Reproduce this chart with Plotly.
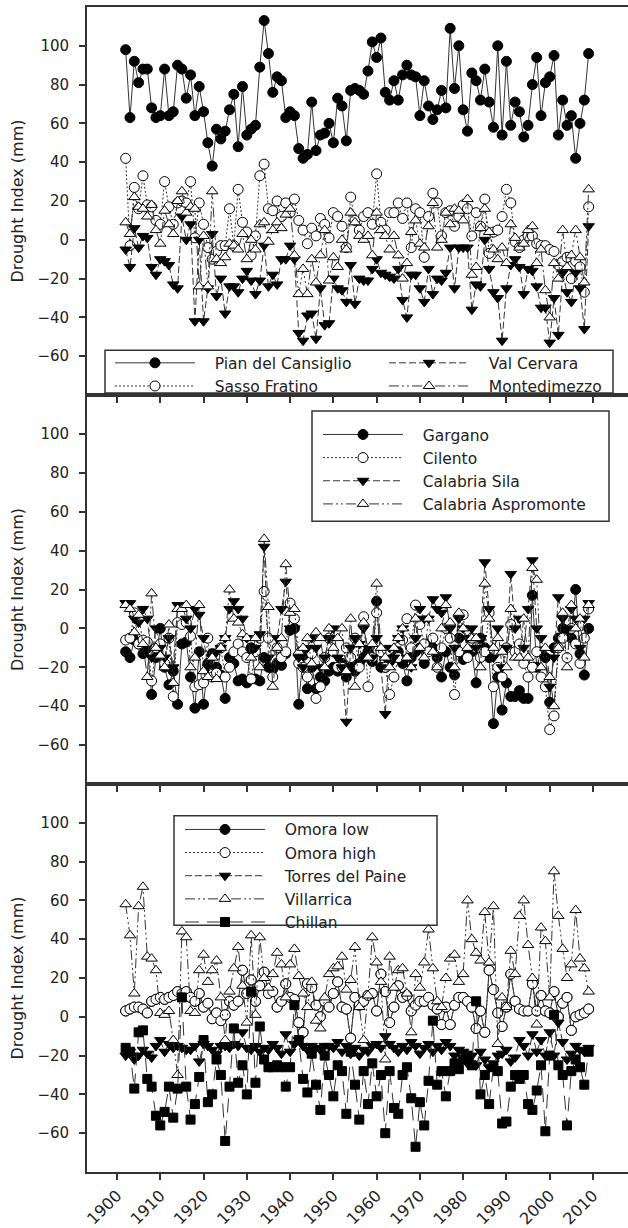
import plotly.graph_objects as go

years = list(range(1902, 2010))

# ---------- Panel 1 ----------
pian_del_cansiglio = [
    98, 63, 92, 81, 88, 88, 68, 63, 64, 88,
    64, 66, 90, 88, 73, 85, 64, 79, 66, 50,
    38, 57, 52, 56, 67, 75, 48, 79, 54, 57,
    59, 89, 113, 96, 76, 84, 82, 63, 66, 64,
    47, 42, 44, 71, 46, 54, 55, 60, 50, 73,
    69, 51, 77, 78, 77, 75, 87, 102, 94, 104,
    76, 72, 82, 72, 85, 90, 85, 84, 64, 82,
    69, 62, 67, 77, 68, 109, 78, 100, 67, 56,
    86, 82, 72, 88, 71, 58, 100, 54, 92, 59,
    71, 66, 53, 59, 80, 94, 64, 81, 84, 95,
    54, 72, 59, 64, 42, 60, 72, 96]
sasso_fratino = [
    42, -3, 27, 16, 33, 18, 17, 10, 8, 30,
    17, 8, 19, 20, 19, 30, 1, 19, 8, -4,
    -10, -6, -3, -3, 16, -3, 26, 9, 4, -8,
    2, 33, 39, 16, 15, 20, 12, 19, 14, 21,
    10, 5, -2, 6, 2, 11, 8, 1, 14, 12,
    7, -4, 22, 10, 5, 12, 14, 8, 34, 9,
    5, 14, 14, 19, 11, 19, -4, 16, 14, -9,
    12, 24, 19, 2, 14, 15, 7, 12, 18, 16,
    2, 14, 7, 21, -7, 4, 5, 12, 26, 19,
    -1, -4, 0, 2, 2, -2, -3, -3, -5, -6,
    -13, -11, -9, -20, -11, -14, -27, 17]
val_cervara = [
    -5, -14, 6, -4, 2, 1, -14, -18, -10, -11,
    -13, -23, -25, 12, 0, 8, -42, 0, -42, -25,
    3, -29, -20, -38, -24, -24, -27, -20, -16, -21,
    -28, -21, -3, -24, -18, -23, -10, -10, -3, -10,
    -48, -52, -39, -38, -51, -25, -44, -43, -20, -25,
    -26, -32, -13, -33, -20, -21, -21, -15, -10, -17,
    -18, -19, -20, -15, -31, -40, -18, -18, -25, -32,
    -15, -28, -20, -21, -17, -4, -25, -4, -4, -4,
    -36, -23, -24, 0, -15, -27, -30, -52, -25, -13,
    -10, -14, -28, -15, -16, -24, -35, -35, -53, -30,
    -49, -17, -27, -32, -17, -25, -46, 7]
montedimezzo = [
    9, 3, 22, 17, 16, 12, 18, 5, -2, 15,
    8, 3, 20, 25, 14, 17, 16, -24, 2, -24,
    25, -10, -12, -9, -2, -3, -5, 3, -10, 0,
    -5, 8, 9, -1, 5, 9, 6, 13, 16, -8,
    -28, -15, -28, -10, -22, -8, 5, -21, -9, -14,
    0, -5, 14, 9, 2, 0, 2, -8, 14, 5,
    2, -5, 2, -8, -20, -12, 4, 10, -2, -4,
    7, 19, -4, 0, 14, 8, 16, 15, 10, 21,
    -18, -14, 6, 16, 4, -5, -10, -4, -12, 8,
    1, -4, -2, 5, 7, -12, -5, -26, -40, -12,
    -20, 5, -14, -8, 5, -9, -22, 26]

# ---------- Panel 2 ----------
gargano = [
    -12, -15, -6, -8, -13, -10, -34, -15, 0, -20,
    -29, -22, -39, -8, -7, -25, -41, -12, -39, -18,
    -13, -20, -24, -36, -15, -18, -27, -26, -28, -10,
    -26, -27, -15, -20, -21, -18, -19, -13, -1, 0,
    -39, -14, -31, -20, -31, -25, -27, -22, -20, -22,
    -18, -25, -20, -22, -18, -15, -12, -17, 14, -20,
    -20, -17, -15, -12, -18, -27, -15, -12, -10, -18,
    -8, -10, -15, -25, -12, -20, -24, -5, -16, -14,
    -12, -28, -5, -10, -15, -49, -25, -42, -28, -35,
    -35, -32, -36, -36, 17, -20, -12, -15, -38, -10,
    -5, 0, -3, -5, 20, -13, -24, 0]
cilento = [
    -6, -5, 8, -8, -6, -7, -27, -10, -8, -18,
    -5, -35, 3, 2, 3, -4, -30, -29, -28, -5,
    -25, -23, -10, -25, -20, -12, -8, -12, -15, -26,
    -12, -5, 19, -5, -25, -10, -15, -12, 13, 5,
    -18, -20, -25, -13, -36, -30, -15, -5, -12, -20,
    -20, -10, -15, -5, -20, 6, -30, -15, 8, -12,
    -20, -34, -25, -15, -6, 5, -10, 12, 2, -8,
    -12, -5, -20, -10, 0, -5, -34, -12, 7, -15,
    -5, -10, -15, -12, 8, -30, -20, -25, -10, 2,
    -12, -8, -18, -25, -20, -12, -25, -30, -52, -45,
    -10, -5, -15, 0, -8, -18, -5, 10]
calabria_sila = [
    13, 13, 5, 3, 10, 5, -15, 0, -10, -15,
    -5, -20, 12, 12, 5, 0, 10, 7, -5, -20,
    -15, -12, -10, -5, 10, 14, 10, 5, -5, -12,
    -10, -3, 42, -15, -20, -5, 10, 24, 0, 0,
    -15, -20, -10, -5, -10, -20, -15, -5, 0, -15,
    -20, -48, -10, -5, -8, 0, -10, -15, -5, -20,
    -44, -10, -15, -5, 0, -15, -20, -5, 10, 5,
    5, 15, 10, 8, 16, 0, -10, 5, 0, -5,
    0, -10, -5, 34, 10, -15, 0, -20, -10, 28,
    0, 5, -10, 10, 35, 0, -5, -15, -30, -15,
    16, 5, 0, 10, 5, -10, 5, 13]
calabria_aspromonte = [
    12, 10, -2, 7, -8, -25, 18, -10, -14, -20,
    2, -28, 10, 10, 12, -20, -15, 12, -22, -25,
    -15, -26, -10, -5, 20, 5, 3, -3, -5, -15,
    -5, -20, 46, 11, -30, -10, -5, 33, 8, 10,
    -12, -10, -5, -18, -2, -5, -20, 0, -10, -5,
    0, -22, 5, -30, -8, 3, -15, -8, 23, -10,
    -15, -20, -10, -5, 0, -15, -20, 5, -10, -15,
    5, -12, -20, 0, 12, 3, -20, 8, 0, -10,
    -5, -5, -20, 23, 5, -10, -5, -12, -20, 10,
    -15, -15, 5, -15, 31, 25, -20, -10, -25, -40,
    -10, 8, -20, 12, 0, 5, -15, 12]

# ---------- Panel 3 ----------
omora_low = [
    3, 4, 5, 5, 4, 2, 8, 9, 10, 9,
    10, 11, 13, 12, 13, 10, 8, 12, 5, 7,
    -1, 2, -2, 1, 8, 6, 8, 24, 12, 19,
    8, 16, 23, 12, 13, 5, 8, 17, 10, 9,
    -3, -8, 17, 15, 6, 0, 8, 5, 12, 18,
    5, 4, -11, 10, 6, 8, 11, 12, 3, 22,
    13, -3, 5, 16, 10, 11, 3, 6, 8, 8,
    10, 6, 4, -4, 5, -4, 6, 10, 10, 8,
    5, -6, 3, -8, 24, 14, 2, -5, 5, 22,
    8, 4, 3, 3, 17, 3, 11, 3, 2, 13,
    0, 7, 10, -7, 0, 1, 2, 4]
omora_high = [
    3, 4, 5, 5, 4, 2, 8, 9, 10, 9,
    10, 11, 13, 12, 13, 10, 8, 12, 5, 7,
    -1, 2, -2, 1, 8, 6, 8, 24, 12, 19,
    8, 16, 23, 12, 13, 5, 8, 17, 10, 9,
    -3, -8, 17, 15, 6, 0, 8, 5, 12, 18,
    5, 4, -11, 10, 6, 8, 11, 12, 3, 22,
    13, -3, 5, 16, 10, 11, 3, 6, 8, 8,
    10, 6, 4, -4, 5, -4, 6, 10, 10, 8,
    5, -6, 3, -8, 24, 14, 2, -5, 5, 22,
    8, 4, 3, 3, 17, 3, 11, 3, 2, 13,
    0, 7, 10, -7, 0, 1, 2, 4]
torres_del_paine = [
    -20, -18, -22, -20, -17, -19, -21, -15, -12, -18,
    -14, -16, -15, -16, -17, -17, -15, -23, -14, -15,
    -17, -19, -15, -15, -16, -14, -15, -8, -16, -17,
    -15, -18, -16, -17, -14, -16, -19, -9, -18, -14,
    -12, -15, -17, -15, -16, -17, -15, -15, -16, -13,
    -18, -15, -19, -16, -20, -17, -18, -15, -14, -16,
    -10, -14, -16, -18, -15, -17, -13, -15, -19, -16,
    -14, -18, -15, -17, -13, -15, -20, -17, -18, -24,
    -20, -25, -18, -22, -26, -24, -20, -19, -17, -23,
    -21, -12, -15, -20, -9, -18, -12, -20, -8, -20,
    -3, -13, -22, -19, -15, -17, -18, -16]
villarrica = [
    58, 42, 12, 57, 67, 31, 30, 24, 2, 1,
    3, -12, -30, 44, 41, 3, 2, 24, 32, 18,
    24, 29, 10, -12, 13, 25, 36, 16, -3, 42,
    1, 41, 20, 15, 22, 33, 27, 10, 27, 35,
    21, 12, 5, 18, -2, -6, 10, 22, 25, 26,
    31, 14, 19, 36, 5, -12, 11, 41, 28, 18,
    -22, 31, 15, 24, 25, 12, -8, 22, 15, 28,
    45, 25, 8, 5, 20, 30, 32, 18, 22, 60,
    40, 33, 29, 54, 28, 57, -14, 10, 5, 34,
    22, 52, 60, 37, 20, -4, 46, 39, 10, 75,
    52, 35, 20, 27, 55, 30, 25, 13]
chillan = [
    -16, -18, -37, -8, -7, -32, -36, -51, -56, -49,
    -36, -52, -37, 10, -36, -53, -45, -31, -12, -44,
    -40, -22, -30, -64, -36, -6, -34, -25, -40, 13,
    -34, -5, -22, -26, -26, -25, -26, -36, -26, 6,
    -12, -32, -39, -19, -35, -48, -20, -30, -41, -25,
    -28, -50, -18, -35, -53, -28, -45, -24, -41, -30,
    -60, -28, -47, -50, -30, -26, -42, -67, -44, -56,
    -33, -2, -35, -28, -41, -28, -24, -27, -22, -20,
    -25, 8, -40, -30, -45, -26, -28, -55, -54, -36,
    -30, -32, -30, -45, -48, -38, -25, -59, -20, 1,
    -25, -30, -56, -28, -22, -26, -35, -18]

tick_years = list(range(1900, 2011, 10))
y_ticks = list(range(-60, 101, 20))

# ---------- geometry (pixels) ----------
W, H = 628, 1228
L, T, B = 87, 7, 50
plot_w = W - L
plot_h = H - T - B
panel_px = [(7, 397), (397, 788), (788, 1178)]


def py(p):
    return (H - B - p) / plot_h


def px(p):
    return (p - L) / plot_w


LINE_C = "#333333"
FONT = "DejaVu Sans, Arial, sans-serif"
TXT_C = "#222222"
PAD = "\u00a0\u00a0\u00a0"

styles = {
    "solid_circle": dict(dash="solid", symbol="circle", fill="black", size=10),
    "dot_open_circle": dict(dash="2px,2px", symbol="circle", fill="white", size=10),
    "dash_down": dict(dash="7px,3px", symbol="triangle-down", fill="black", size=10),
    "dashdotdot_up": dict(dash="10px,3px,2px,3px,2px,3px", symbol="triangle-up", fill="white", size=10),
    "longdash_square": dict(dash="14px,8px", symbol="square", fill="black", size=9),
}

fig = go.Figure()


def add(name, vals, style, panel, legend, rank):
    s = styles[style]
    sfx = "" if panel == 1 else str(panel)
    fig.add_trace(go.Scatter(
        x=years, y=vals, name=PAD + name, mode="lines+markers",
        line=dict(color=LINE_C, width=1, dash=s["dash"]),
        marker=dict(symbol=s["symbol"], size=s["size"], color=s["fill"],
                    line=dict(color="black", width=1)),
        xaxis="x" + sfx, yaxis="y" + sfx, legend=legend, legendrank=rank,
    ))


add("Pian del Cansiglio", pian_del_cansiglio, "solid_circle", 1, "legend", 1)
add("Sasso Fratino", sasso_fratino, "dot_open_circle", 1, "legend", 2)
add("Val Cervara", val_cervara, "dash_down", 1, "legend4", 1)
add("Montedimezzo", montedimezzo, "dashdotdot_up", 1, "legend4", 2)

add("Gargano", gargano, "solid_circle", 2, "legend2", 1)
add("Cilento", cilento, "dot_open_circle", 2, "legend2", 2)
add("Calabria Sila", calabria_sila, "dash_down", 2, "legend2", 3)
add("Calabria Aspromonte", calabria_aspromonte, "dashdotdot_up", 2, "legend2", 4)

add("Omora low", omora_low, "solid_circle", 3, "legend3", 1)
add("Omora high", omora_high, "dot_open_circle", 3, "legend3", 2)
add("Torres del Paine", torres_del_paine, "dash_down", 3, "legend3", 3)
add("Villarrica", villarrica, "dashdotdot_up", 3, "legend3", 4)
add("Chillan", chillan, "longdash_square", 3, "legend3", 5)

x0 = 1900 - (117 - L) / 4.327
x1 = 1900 + (W - 117) / 4.327

layout = dict(
    width=W, height=H,
    margin=dict(l=L, r=0, t=T, b=B, pad=0),
    plot_bgcolor="white", paper_bgcolor="white",
    font=dict(family=FONT, size=15, color=TXT_C),
    showlegend=True,
)

for i, (top, bot) in enumerate(panel_px, start=1):
    sfx = "" if i == 1 else str(i)
    layout["xaxis" + sfx] = dict(
        domain=[0, 1], range=[x0, x1], anchor="y" + sfx,
        tickvals=tick_years, ticks="outside", ticklen=6, tickwidth=1.5,
        tickcolor=LINE_C, showline=True, linecolor=LINE_C, linewidth=1.8,
        mirror=True, showgrid=False, zeroline=False,
        showticklabels=(i == 3), tickangle=-45,
        tickfont=dict(size=16, family=FONT, color=TXT_C),
    )
    layout["yaxis" + sfx] = dict(
        domain=[py(bot), py(top)], range=[-80, 120], anchor="x" + sfx,
        tickvals=y_ticks, ticks="outside", ticklen=6, tickwidth=1.5,
        tickcolor=LINE_C, showline=True, linecolor=LINE_C, linewidth=1.8,
        mirror=False, showgrid=False, zeroline=False,
        ticklabelstandoff=7,
        title=dict(text="Drought Index (mm)", standoff=10,
                   font=dict(size=16, family=FONT, color=TXT_C)),
        tickfont=dict(size=15, family=FONT, color=TXT_C),
    )

leg_common = dict(font=dict(size=15.5, family=FONT, color=TXT_C), itemwidth=80,
                  xanchor="left", yanchor="top", bgcolor="rgba(255,255,255,0)",
                  traceorder="normal", tracegroupgap=0, itemclick=False,
                  borderwidth=0)
layout["legend"] = dict(x=px(110), y=py(348), **leg_common)
layout["legend4"] = dict(x=px(384), y=py(348), **leg_common)
layout["legend2"] = dict(x=px(318), y=py(420), **leg_common)
layout["legend3"] = dict(x=px(180), y=py(817), **leg_common)

fig.update_layout(**layout)

boxes = [(105, 613, 352, 395), (312, 609, 413, 524), (174, 437, 820, 930)]
for bx0, bx1, by0, by1 in boxes:
    fig.add_shape(type="rect", xref="paper", yref="paper",
                  x0=px(bx0), x1=px(bx1), y0=py(by1), y1=py(by0),
                  line=dict(color=LINE_C, width=1.5),
                  fillcolor="rgba(255,255,255,0)")

fig.write_html("out.html")
